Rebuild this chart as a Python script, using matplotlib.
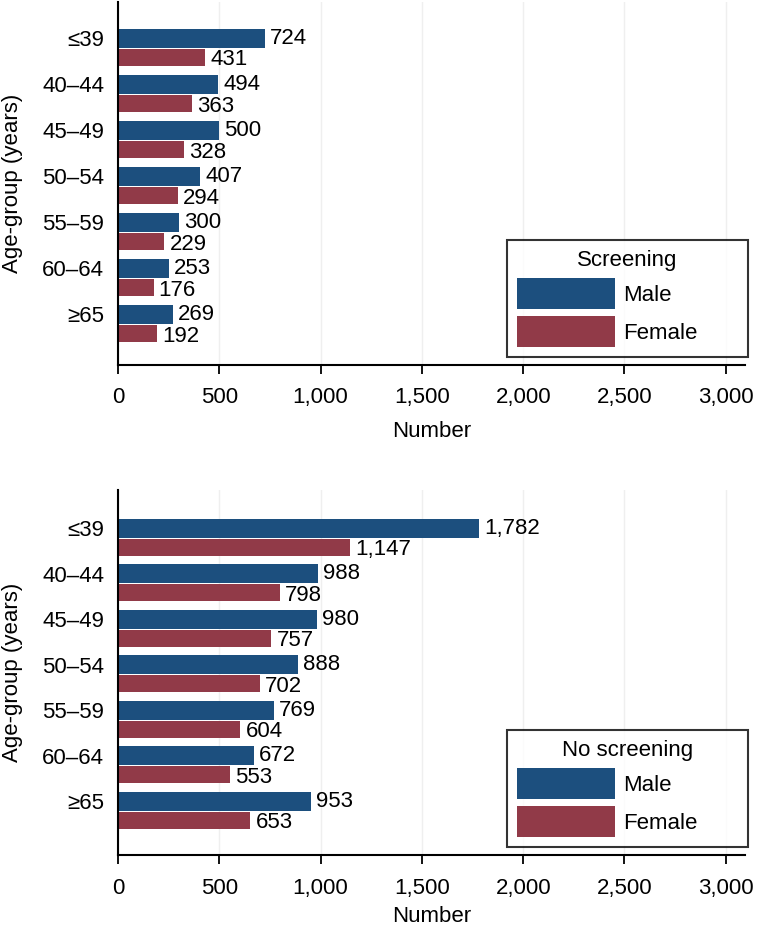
import numpy as np
import matplotlib
matplotlib.use("Agg")
import matplotlib.pyplot as plt
from matplotlib.patches import Patch
from matplotlib.ticker import FuncFormatter

plt.rcParams['font.family'] = ['Liberation Sans', 'DejaVu Sans']

# 数据
age_groups = ["≤39", "40–44", "45–49", "50–54", "55–59", "60–64", "≥65"]
screen_male = [724, 494, 500, 407, 300, 253, 269]
screen_female = [431, 363, 328, 294, 229, 176, 192]
noscreen_male = [1782, 988, 980, 888, 769, 672, 953]
noscreen_female = [1147, 798, 757, 702, 604, 553, 653]

NAVY = "#1c4f7e"
MAROON = "#913a48"
FS = 16


def draw_panel(ax, male, female, title, ylim, tick_pad, label_pad):
    y = np.arange(len(age_groups))
    h = 0.42
    ax.barh(y - h / 2, male, height=h, color=NAVY, edgecolor="none")
    ax.barh(y + h / 2, female, height=h * 0.88, color=MAROON, edgecolor="none")
    for yi, m, f in zip(y, male, female):
        ax.text(m + 25, yi - h / 2, f"{m:,}", va="center", ha="left", fontsize=FS)
        ax.text(f + 25, yi + h / 2 + 0.05, f"{f:,}", va="center", ha="left", fontsize=FS)

    ax.set_xlim(0, 3095)
    ax.set_ylim(*ylim)
    ax.set_xticks(np.arange(0, 3001, 500))
    ax.xaxis.set_major_formatter(FuncFormatter(lambda v, p: f"{int(v):,}"))
    ax.set_yticks(y - h / 2)
    ax.set_yticklabels(age_groups)
    ax.tick_params(axis="y", length=0, pad=10, labelsize=FS)
    ax.tick_params(axis="x", length=6.5, width=1.3, pad=tick_pad, labelsize=FS)
    ax.grid(axis="x", color="#efefef", linewidth=1)
    ax.set_axisbelow(True)
    for s in ["top", "right"]:
        ax.spines[s].set_visible(False)
    for s in ["left", "bottom"]:
        ax.spines[s].set_linewidth(1.5)
    ax.set_xlabel("Number", fontsize=FS, labelpad=label_pad)
    ax.set_ylabel("Age-group (years)", fontsize=FS, labelpad=14)

    handles = [Patch(facecolor=NAVY, label="Male"), Patch(facecolor=MAROON, label="Female")]
    leg = ax.legend(handles=handles, title=title, loc="lower left",
                    bbox_to_anchor=(0.62, 0.022, 0.385, 0), mode="expand",
                    fontsize=FS, title_fontsize=FS,
                    handlelength=4.4, handleheight=1.75, frameon=True, fancybox=False,
                    borderpad=0.45, labelspacing=0.32, handletextpad=0.4,
                    borderaxespad=0)
    leg.get_frame().set_edgecolor("black")
    leg.get_frame().set_linewidth(1.5)


fig = plt.figure(figsize=(7.58, 9.25), dpi=100)
ax1 = fig.add_axes([0.1557, 0.6054, 0.8272, 0.3924])
ax2 = fig.add_axes([0.1557, 0.0757, 0.8272, 0.3946])

draw_panel(ax1, screen_male, screen_female, "Screening", (6.89, -1.0), 9, 10)
draw_panel(ax2, noscreen_male, noscreen_female, "No screening", (6.97, -1.05), 10, 5)

fig.savefig("out.png", dpi=100)
